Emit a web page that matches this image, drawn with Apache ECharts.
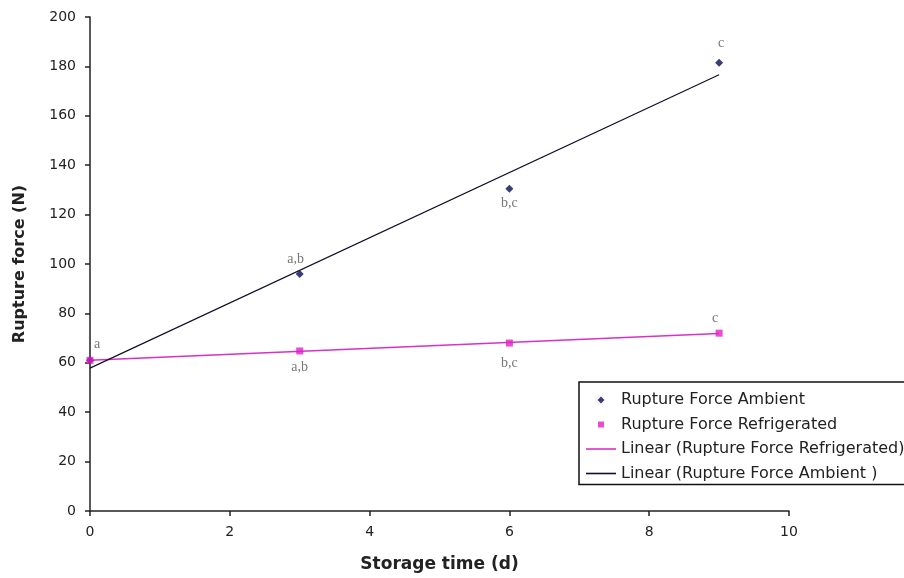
<!DOCTYPE html>
<html>
<head>
<meta charset="utf-8">
<script src="https://cdn.jsdelivr.net/npm/echarts@6/dist/echarts.min.js"></script>
<style>html,body{margin:0;padding:0;background:#fff;}#c{width:904px;height:578px;}</style>
</head>
<body>
<div id="c"></div>
<script>
// ---- data ----
var days = [0, 3, 6, 9];
var ambient = [61, 96, 130.5, 181.5];
var refrigerated = [61, 64.8, 68, 72];
var ambientLetters = ['', 'a,b', 'b,c', 'c'];
var refrigeratedLetters = ['a', 'a,b', 'b,c', 'c'];
var xTicks = [0, 2, 4, 6, 8, 10];
var yTicks = [0, 20, 40, 60, 80, 100, 120, 140, 160, 180, 200];
var seriesNames = ['Rupture Force Ambient', 'Rupture Force Refrigerated',
  'Linear (Rupture Force Refrigerated)', 'Linear (Rupture Force Ambient )'];

function fit(xs, ys) {
  var n = xs.length, mx = 0, my = 0;
  for (var i = 0; i < n; i++) { mx += xs[i]; my += ys[i]; }
  mx /= n; my /= n;
  var sxy = 0, sxx = 0;
  for (var j = 0; j < n; j++) { sxy += (xs[j] - mx) * (ys[j] - my); sxx += (xs[j] - mx) * (xs[j] - mx); }
  var b = sxy / sxx, a = my - b * mx;
  var x0 = xs[0], x1 = xs[n - 1];
  return [[x0, a + b * x0], [x1, a + b * x1]];
}

var labelFont = { fontFamily: 'Liberation Serif', fontSize: 14, color: '#555' };
var ambPos = ['top', 'top', 'bottom', 'top'];
var refPos = ['top', 'bottom', 'bottom', 'top'];
var ambOff = [[0, 0], [-4, 0], [0, 0], [2, -4]];
var refOff = [[7, -2], [0, 2], [0, 6], [-4, 0]];

function points(ys, letters, pos, off) {
  return days.map(function (d, i) {
    return {
      value: [d, ys[i]],
      label: Object.assign({ show: letters[i] !== '', formatter: letters[i], position: pos[i], offset: off[i], distance: 4 }, labelFont)
    };
  });
}

var ambColor = '#0a0a55', refColor = '#e020c8', refLine = '#d830c8', ambLine = '#10102a';
var box = 'M0,0 M30,14 ';
var axisFont = { fontFamily: 'DejaVu Sans', fontSize: 14, color: '#222' };
var chart = echarts.init(document.getElementById('c'), null, { renderer: 'canvas' });
chart.setOption({
  animation: false,
  backgroundColor: '#fff',
  grid: { left: 90, right: 115, top: 17, bottom: 65, containLabel: false },
  xAxis: {
    type: 'value', min: xTicks[0], max: xTicks[xTicks.length - 1], interval: 2,
    name: 'Storage time (d)', nameLocation: 'middle', nameGap: 45,
    nameTextStyle: { fontFamily: 'DejaVu Sans', fontSize: 17, fontWeight: 'bold', color: '#222' },
    axisLine: { lineStyle: { color: '#222', width: 1.5 } },
    axisTick: { show: true, length: 5, lineStyle: { color: '#222', width: 1.5 } },
    axisLabel: Object.assign({ margin: 14 }, axisFont),
    splitLine: { show: false }
  },
  yAxis: {
    type: 'value', min: yTicks[0], max: yTicks[yTicks.length - 1], interval: 20,
    name: 'Rupture force (N)', nameLocation: 'middle', nameGap: 62,
    nameTextStyle: { fontFamily: 'DejaVu Sans', fontSize: 16, fontWeight: 'bold', color: '#222' },
    axisLine: { show: true, lineStyle: { color: '#222', width: 1.5 } },
    axisTick: { show: true, length: 5, lineStyle: { color: '#222', width: 1.5 } },
    axisLabel: Object.assign({ margin: 14 }, axisFont),
    splitLine: { show: false }
  },
  legend: {
    orient: 'vertical', left: 579, top: 382,
    padding: [10, 10, 3, 7], itemGap: 8.5, itemWidth: 30, itemHeight: 14,
    borderColor: '#111', borderWidth: 1.5, backgroundColor: '#fff',
    textStyle: { fontFamily: 'DejaVu Sans', fontSize: 16, color: '#222' },
    data: [
      { name: seriesNames[0], icon: 'path://' + box + 'M15,3.5 L18.5,7 L15,10.5 L11.5,7 Z', itemStyle: { color: ambColor } },
      { name: seriesNames[1], icon: 'path://' + box + 'M12,4 L18,4 L18,10 L12,10 Z', itemStyle: { color: refColor } },
      { name: seriesNames[2], icon: 'path://' + box + 'M0,6.2 L30,6.2 L30,7.8 L0,7.8 Z', itemStyle: { color: refLine } },
      { name: seriesNames[3], icon: 'path://' + box + 'M0,6.2 L30,6.2 L30,7.8 L0,7.8 Z', itemStyle: { color: ambLine } }
    ]
  },
  series: [
    {
      name: seriesNames[0], type: 'scatter', symbol: 'diamond', symbolSize: 8,
      itemStyle: { color: ambColor }, z: 3,
      data: points(ambient, ambientLetters, ambPos, ambOff)
    },
    {
      name: seriesNames[1], type: 'scatter', symbol: 'rect', symbolSize: 7,
      itemStyle: { color: refColor }, z: 4,
      data: points(refrigerated, refrigeratedLetters, refPos, refOff)
    },
    {
      name: seriesNames[2], type: 'line', symbol: 'none', z: 2,
      lineStyle: { color: refLine, width: 1.5 }, itemStyle: { color: refLine },
      data: fit(days, refrigerated)
    },
    {
      name: seriesNames[3], type: 'line', symbol: 'none', z: 2,
      lineStyle: { color: ambLine, width: 1.2 }, itemStyle: { color: ambLine },
      data: fit(days, ambient)
    }
  ]
});
</script>
</body>
</html>
